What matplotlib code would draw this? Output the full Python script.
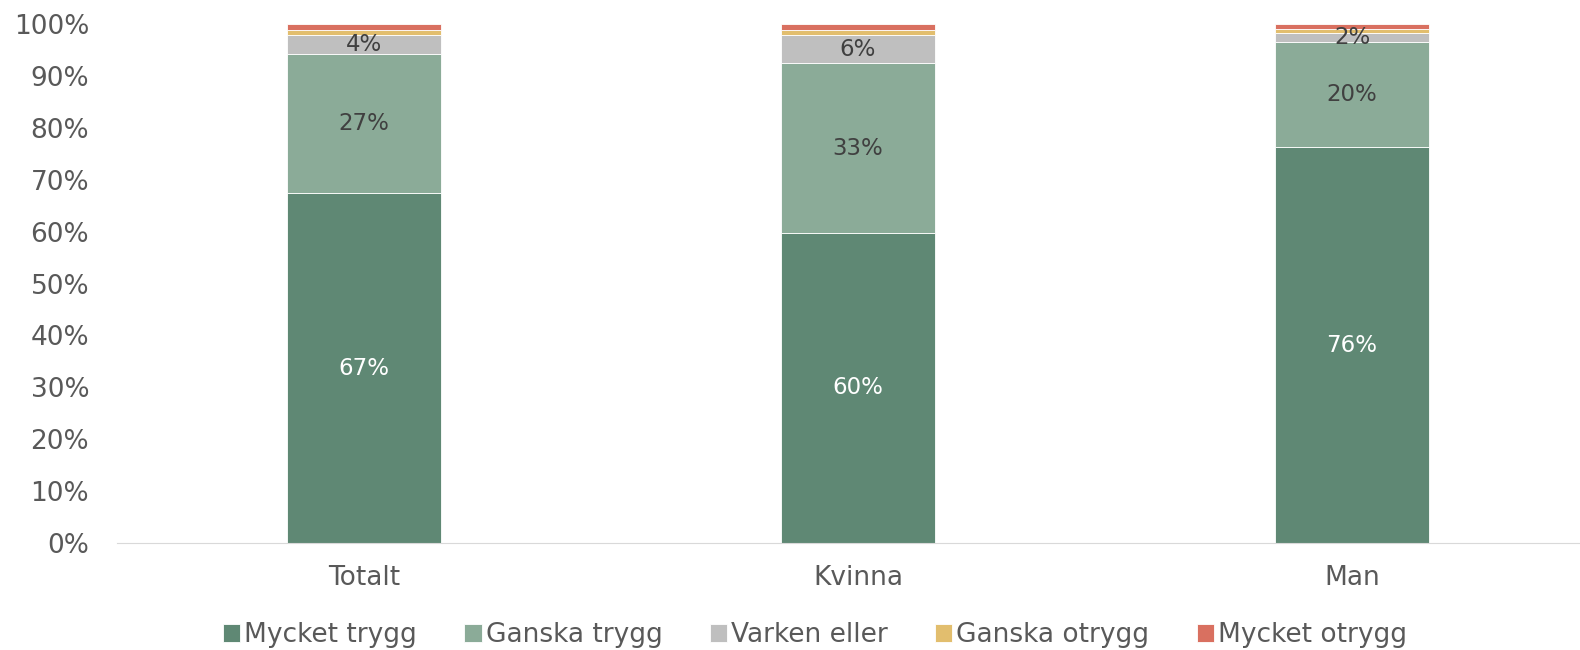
import numpy as np
import matplotlib.pyplot as plt

# categories and shares (%)
groups = ["Totalt", "Kvinna", "Man"]
series = ["Mycket trygg", "Ganska trygg", "Varken eller", "Ganska otrygg", "Mycket otrygg"]
mycket_trygg = [67.4, 59.8, 76.3]
ganska_trygg = [26.8, 32.6, 20.3]
varken_eller = [3.7, 5.5, 1.6]
ganska_otrygg = [1.0, 1.0, 0.8]
mycket_otrygg = [1.1, 1.1, 1.0]

values = [mycket_trygg, ganska_trygg, varken_eller, ganska_otrygg, mycket_otrygg]
colors = ["#5F8874", "#8BAB98", "#BFBFBF", "#E2BE6E", "#D97060"]
label_colors = ["white", "#404040", "#404040", None, None]

plt.rcParams['font.family'] = ['DejaVu Sans']
fig = plt.figure(figsize=(15.8, 6.5), dpi=100)
ax = fig.add_axes([117/1580, 107/650, (1580-117)/1580, 519/650])

x = np.arange(len(groups))
bottom = np.zeros(len(groups))
for name, vals, col, lc in zip(series, values, colors, label_colors):
    vals = np.array(vals)
    ax.bar(x, vals, 0.312, bottom=bottom, color=col, label=name,
           edgecolor="white", linewidth=0.6)
    if lc is not None:
        for xi, b, v in zip(x, bottom, vals):
            ax.text(xi, b + v / 2, f"{v:.0f}%", ha="center", va="center",
                    color=lc, fontsize=16.5)
    bottom += vals

ax.set_xlim(-0.5, (1580 - 117) / 494 - 0.5)
ax.set_ylim(0, 100)
ax.set_yticks(np.arange(0, 101, 10))
ax.set_yticklabels([f"{t}%" for t in range(0, 101, 10)])
ax.set_xticks(x)
ax.set_xticklabels(groups)
ax.tick_params(axis="both", length=0, labelsize=19, colors="#595959")
ax.tick_params(axis="x", pad=16)
ax.tick_params(axis="y", pad=20)
for s in ["top", "right", "left"]:
    ax.spines[s].set_visible(False)
ax.spines["bottom"].set_color("#D9D9D9")

ax.legend(loc="center", bbox_to_anchor=(815/1580, 1 - 635/650), bbox_transform=fig.transFigure,
          ncol=5, frameon=False,
          fontsize=19, handlelength=0.65, handleheight=0.65, handletextpad=0.15,
          columnspacing=1.8, labelcolor="#595959")

fig.savefig("out.png", dpi=100)
